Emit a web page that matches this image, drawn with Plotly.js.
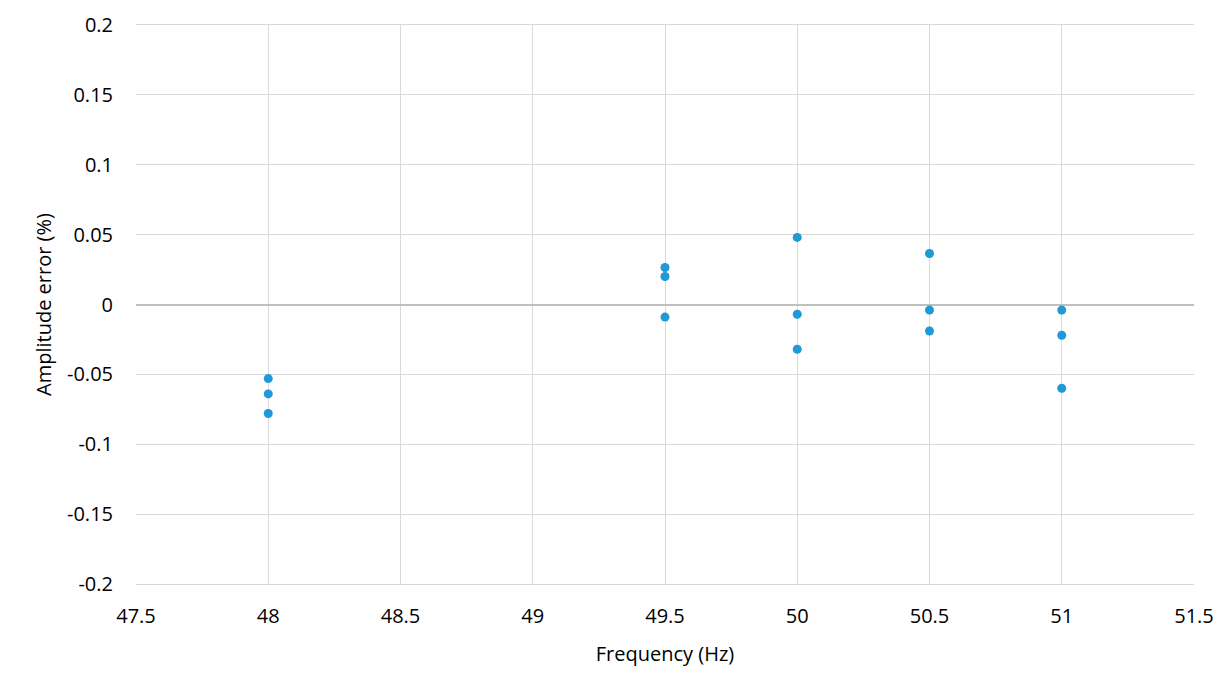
<!DOCTYPE html>
<html>
<head>
<script src="https://cdn.plot.ly/plotly-3.0.1.min.js"></script>
<style>body{margin:0;background:#fff}</style>
</head>
<body>
<div id="plot" style="width:1230px;height:692px"></div>
<script>
// Frequency (Hz) and amplitude error (%).
const freq = [48, 48, 48, 49.5, 49.5, 49.5, 50, 50, 50, 50.5, 50.5, 50.5, 51, 51, 51];
const ampError = [-0.053, -0.064, -0.078, 0.0265, 0.020, -0.009, 0.048, -0.007, -0.032, 0.0365, -0.004, -0.019, -0.004, -0.022, -0.060];

// Y tick labels as shown (plain hyphen minus).
const yTickVals = [-0.2, -0.15, -0.1, -0.05, 0, 0.05, 0.1, 0.15, 0.2];
const yTickText = ['-0.2', '-0.15', '-0.1', '-0.05', '0', '0.05', '0.1', '0.15', '0.2'];

const data = [{
  x: freq,
  y: ampError,
  type: 'scatter',
  mode: 'markers',
  marker: {size: 9, color: '#1f9ad6'}
}];

const layout = {
  width: 1230,
  height: 692,
  margin: {l: 136, r: 36, t: 25, b: 108},
  paper_bgcolor: '#fff',
  plot_bgcolor: '#fff',
  showlegend: false,
  font: {family: 'Open Sans, sans-serif', size: 20, color: '#000'},
  xaxis: {
    range: [47.5, 51.5],
    dtick: 0.5,
    showgrid: true,
    gridcolor: '#d9d9d9',
    zeroline: false,
    showline: true,
    linecolor: '#d9d9d9',
    mirror: true,
    ticks: 'outside',
    ticklen: 14,
    tickcolor: 'rgba(0,0,0,0)',
    title: {text: 'Frequency (Hz)', font: {size: 20}, standoff: 18}
  },
  yaxis: {
    range: [-0.2, 0.2],
    tickvals: yTickVals,
    ticktext: yTickText,
    showgrid: true,
    gridcolor: '#d9d9d9',
    zeroline: true,
    zerolinecolor: '#bfbfbf',
    zerolinewidth: 1.5,
    showline: false,
    ticks: 'outside',
    ticklen: 18,
    tickcolor: 'rgba(0,0,0,0)',
    title: {text: 'Amplitude error (%)', font: {size: 20}, standoff: 10}
  }
};

Plotly.newPlot('plot', data, layout, {displayModeBar: false});
</script>
</body>
</html>
